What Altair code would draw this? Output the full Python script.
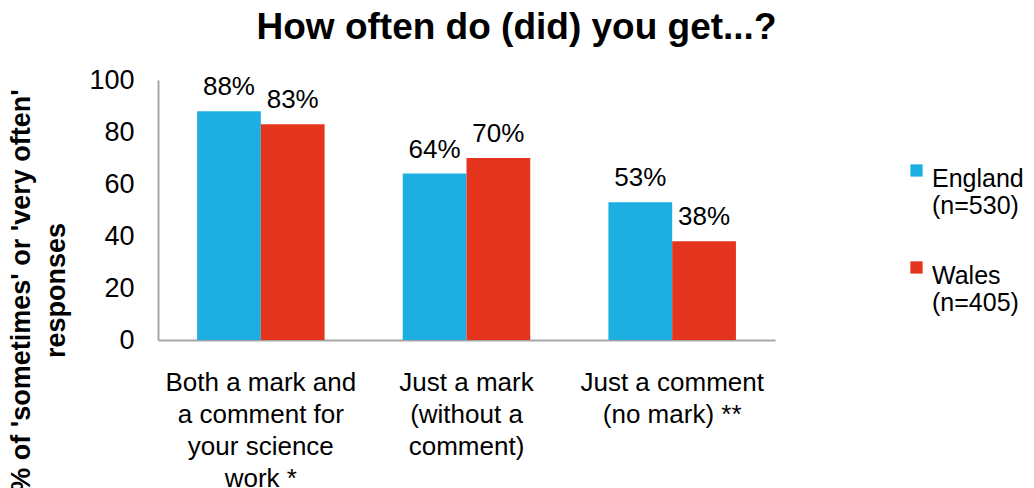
import altair as alt
import pandas as pd

categories = [
    "Both a mark and|a comment for|your science|work *",
    "Just a mark|(without a|comment)",
    "Just a comment|(no mark) **",
]
series = ["England (n=530)", "Wales (n=405)"]
england = [88, 64, 53]
wales = [83, 70, 38]
colors = ["#1DAFE2", "#E4341E"]
y_ticks = [0, 20, 40, 60, 80, 100]

rows = []
for cat, e, w in zip(categories, england, wales):
    rows.append({"category": cat, "country": series[0], "value": e})
    rows.append({"category": cat, "country": series[1], "value": w})
df = pd.DataFrame(rows)

FONT = "Liberation Sans"

x_enc = alt.X(
    "category:N",
    sort=categories,
    scale=alt.Scale(paddingInner=0.38, paddingOuter=0.19),
    axis=alt.Axis(
        title=None,
        labelAngle=0,
        ticks=False,
        labelExpr="split(datum.label, '|')",
        labelFontSize=26,
        labelLineHeight=32,
        labelPadding=29,
        labelLimit=0,
        labelColor="#000000",
        domainColor="#A6A6A6",
        domainWidth=2,
    ),
)
xoff = alt.XOffset("country:N", sort=series, scale=alt.Scale(paddingInner=0, paddingOuter=0))
y_enc = alt.Y(
    "value:Q",
    scale=alt.Scale(domain=[0, 100], nice=False),
    axis=alt.Axis(
        values=y_ticks,
        grid=False,
        ticks=False,
        labelFontSize=27,
        labelPadding=24,
        labelColor="#000000",
        domainColor="#A6A6A6",
        domainWidth=2,
        title=["% of 'sometimes' or 'very often'", "responses"],
        titleFontSize=27,
        titleFontWeight="bold",
        titleColor="#000000",
        titleAngle=270,
        titleAlign="center",
        titleBaseline="middle",
        titleLineHeight=35,
        titleX=-137,
        titleY=210,
    ),
)

bars = alt.Chart(df).mark_bar().encode(
    x=x_enc,
    xOffset=xoff,
    y=y_enc,
    color=alt.Color(
        "country:N",
        sort=series,
        scale=alt.Scale(domain=series, range=colors),
        legend=alt.Legend(
            title=None,
            orient="none",
            legendX=746,
            legendY=74,
            symbolType="M-1,-0.35L1,-0.35L1,1.65L-1,1.65Z",
            symbolSize=150,
            symbolStrokeWidth=0,
            labelFontSize=25,
            labelColor="#000000",
            labelExpr="split(datum.label, ' ')",
            labelBaseline="top",
            labelOffset=3,
            rowPadding=32,
            padding=0,
        ),
    ),
)

labels = alt.Chart(df).transform_calculate(
    lab="format(datum.value, 'd') + '%'"
).mark_text(baseline="alphabetic", dy=-16, fontSize=26, font=FONT, color="#000000").encode(
    x=alt.X("category:N", sort=categories),
    xOffset=alt.XOffset("country:N", sort=series),
    y=alt.Y("value:Q"),
    text="lab:N",
)

chart = (
    alt.layer(bars, labels)
    .properties(
        width=617,
        height=260,
        autosize=alt.AutoSizeParams(type="none"),
        padding={"left": 150, "top": 72, "right": 251, "bottom": 148},
        title=alt.Title(
            "How often do (did) you get...?",
            fontSize=37,
            fontWeight="bold",
            font=FONT,
            color="#000000",
            anchor="middle",
            dx=50,
            offset=19,
        ),
    )
    .configure(font=FONT)
    .configure_view(stroke=None)
)

chart.save("out.html", embed_options={"renderer": "svg", "actions": False})
